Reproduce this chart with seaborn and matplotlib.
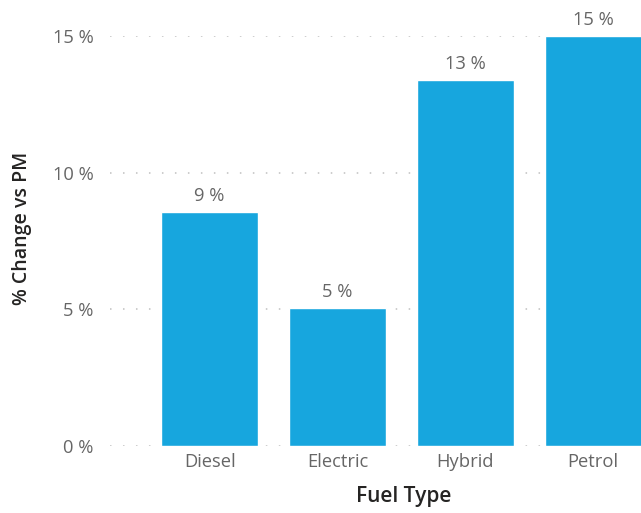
import matplotlib
matplotlib.use("Agg")
import matplotlib.pyplot as plt
import seaborn as sns
import pandas as pd

categories = ["Diesel", "Electric", "Hybrid", "Petrol"]
values = [8.56, 5.05, 13.39, 15.0]
labels = ["9 %", "5 %", "13 %", "15 %"]
yticks = [0, 5, 10, 15]
ytick_labels = ["0 %", "5 %", "10 %", "15 %"]

sns.set_style("white")
plt.rcParams["font.family"] = ["Open Sans", "DejaVu Sans"]

df = pd.DataFrame({"Fuel Type": categories, "Change": values})

fig = plt.figure(figsize=(6.41, 5.13), dpi=100)
ax = fig.add_axes([110 / 641, 1 - 446 / 513, 1 - 110 / 641, (446 - 36) / 513])

sns.barplot(data=df, x="Fuel Type", y="Change", color="#17A6DE", saturation=1,
            width=0.76, ax=ax, zorder=3)

ax.set_ylim(0, 15)
ax.set_xlim(-0.78, 3.375)
ax.set_yticks(yticks)
ax.set_yticklabels(ytick_labels)
ax.yaxis.grid(True, linestyle=(0, (1, 7.5)), color="#c0c0c0", linewidth=1.1, zorder=0)
ax.xaxis.grid(False)
ax.set_axisbelow(True)
for s in ax.spines.values():
    s.set_visible(False)
ax.tick_params(axis="y", length=0, pad=12, labelsize=13.2, labelcolor="#666666")
ax.tick_params(axis="x", length=0, pad=5, labelsize=13.2, labelcolor="#666666")

for i, (v, lab) in enumerate(zip(values, labels)):
    ax.annotate(lab, (i, v), xytext=(0, 5), textcoords="offset points",
                ha="center", va="bottom", fontsize=13.2, color="#666666",
                annotation_clip=False)

ax.set_xlabel("Fuel Type", fontsize=15, color="#252423", fontweight="semibold")
ax.set_ylabel("% Change vs PM", fontsize=14, color="#252423", fontweight="semibold")
ax.yaxis.set_label_coords(-(110 - 32) / 531, 0.532)
ax.xaxis.set_label_coords((404 - 110) / 531, -(486 - 446) / 410)

fig.savefig("out.png", dpi=100)
